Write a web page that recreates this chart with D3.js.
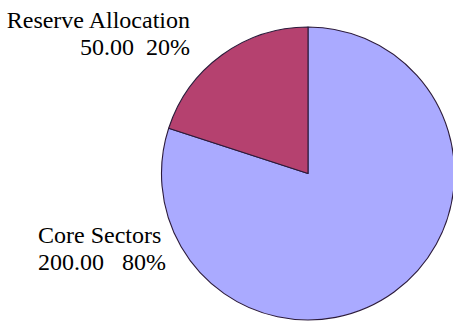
<!DOCTYPE html>
<html>
<head>
<meta charset="utf-8">
<script src="https://cdn.jsdelivr.net/npm/d3@7"></script>
<style>
html, body { margin: 0; padding: 0; background: #ffffff; }
svg { display: block; }
</style>
</head>
<body>
<svg id="chart" width="453" height="322"></svg>
<script>
const categories = ["Core Sectors", "Reserve Allocation"];
const values = [200, 50];
const valueLabels = ["200.00", "50.00"];
const percentLabels = ["80%", "20%"];
const colors = ["#aaaaff", "#b5416f"];

const svg = d3.select("#chart");
const cx = 308, cy = 173.5, r = 146.5;

const pie = d3.pie().sort(null).value(d => d);
const arcs = pie(values);
const arc = d3.arc().innerRadius(0).outerRadius(r);

const g = svg.append("g").attr("transform", `translate(${cx},${cy})`);
g.selectAll("path")
  .data(arcs)
  .enter().append("path")
  .attr("d", arc)
  .attr("fill", (d, i) => colors[i])
  .attr("stroke", "#2b1a3a")
  .attr("stroke-width", 1.1)
  .attr("stroke-linejoin", "round");

const labelSpec = [
  { x: 38, y: 243, anchor: "start", sep: "\u00a0\u00a0\u00a0" },
  { x: 190, y: 27.5, anchor: "end", sep: "\u00a0\u00a0" }
];
const lineH = 27;
categories.forEach((c, i) => {
  const s = labelSpec[i];
  const t = svg.append("text")
    .attr("text-anchor", s.anchor)
    .style("font-family", "'Times New Roman', 'Liberation Serif', serif")
    .style("font-size", "24px")
    .attr("fill", "#000");
  t.append("tspan").attr("x", s.x).attr("y", s.y).text(c);
  t.append("tspan").attr("x", s.x).attr("y", s.y + lineH).text(valueLabels[i] + s.sep + percentLabels[i]);
});
</script>
</body>
</html>
